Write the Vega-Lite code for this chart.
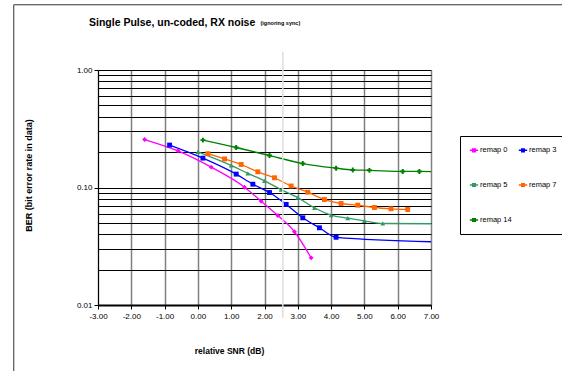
{
  "$schema": "https://vega.github.io/schema/vega-lite/v6.json",
  "width": 333,
  "height": 235,
  "autosize": {"type": "none"},
  "padding": {"left": 98, "top": 70, "right": 131, "bottom": 66},
  "background": "white",
  "title": {
    "text": "Single Pulse, un-coded, RX noise",
    "anchor": "start",
    "frame": "group",
    "dx": -9,
    "offset": -24,
    "font": "Liberation Sans",
    "fontSize": 10.5,
    "fontWeight": "bold",
    "color": "black"
  },
  "config": {
    "view": {"stroke": null},
    "font": "Liberation Sans",
    "axis": {"labelOverlap": false, "labelFlush": false}
  },
  "resolve": {"scale": {"color": "independent"}, "legend": {"color": "independent"}},
  "datasets": {
    "ber": [
      {"series": "remap 0", "snr": -1.6, "ber": 0.256},
      {"series": "remap 0", "snr": -0.6, "ber": 0.205},
      {"series": "remap 0", "snr": 0.4, "ber": 0.149},
      {"series": "remap 0", "snr": 1.4, "ber": 0.1006},
      {"series": "remap 0", "snr": 1.9, "ber": 0.0764},
      {"series": "remap 0", "snr": 2.4, "ber": 0.0578},
      {"series": "remap 0", "snr": 2.9, "ber": 0.042},
      {"series": "remap 0", "snr": 3.4, "ber": 0.0252},
      {"series": "remap 3", "snr": -0.85, "ber": 0.2296},
      {"series": "remap 3", "snr": 0.15, "ber": 0.1778},
      {"series": "remap 3", "snr": 1.15, "ber": 0.13},
      {"series": "remap 3", "snr": 1.65, "ber": 0.1067},
      {"series": "remap 3", "snr": 2.15, "ber": 0.0906},
      {"series": "remap 3", "snr": 2.65, "ber": 0.0718},
      {"series": "remap 3", "snr": 3.15, "ber": 0.0552},
      {"series": "remap 3", "snr": 3.65, "ber": 0.0454},
      {"series": "remap 3", "snr": 4.15, "ber": 0.0377},
      {"series": "remap 3", "snr": 8.0, "ber": 0.034},
      {"series": "remap 5", "snr": 0.0, "ber": 0.201},
      {"series": "remap 5", "snr": 1.0, "ber": 0.154},
      {"series": "remap 5", "snr": 1.5, "ber": 0.132},
      {"series": "remap 5", "snr": 2.0, "ber": 0.114},
      {"series": "remap 5", "snr": 2.5, "ber": 0.096},
      {"series": "remap 5", "snr": 3.0, "ber": 0.082},
      {"series": "remap 5", "snr": 3.5, "ber": 0.0672},
      {"series": "remap 5", "snr": 4.0, "ber": 0.0582},
      {"series": "remap 5", "snr": 4.5, "ber": 0.0549},
      {"series": "remap 5", "snr": 5.0, "ber": 0.0521},
      {"series": "remap 5", "snr": 5.55, "ber": 0.0494},
      {"series": "remap 5", "snr": 8.0, "ber": 0.049},
      {"series": "remap 7", "snr": 0.3, "ber": 0.194},
      {"series": "remap 7", "snr": 0.8, "ber": 0.175},
      {"series": "remap 7", "snr": 1.3, "ber": 0.157},
      {"series": "remap 7", "snr": 1.8, "ber": 0.136},
      {"series": "remap 7", "snr": 2.3, "ber": 0.121},
      {"series": "remap 7", "snr": 2.8, "ber": 0.103},
      {"series": "remap 7", "snr": 3.3, "ber": 0.0912},
      {"series": "remap 7", "snr": 3.8, "ber": 0.079},
      {"series": "remap 7", "snr": 4.3, "ber": 0.0731},
      {"series": "remap 7", "snr": 4.8, "ber": 0.0707},
      {"series": "remap 7", "snr": 5.3, "ber": 0.0676},
      {"series": "remap 7", "snr": 5.8, "ber": 0.0659},
      {"series": "remap 7", "snr": 6.3, "ber": 0.065},
      {"series": "remap 14", "snr": 0.15, "ber": 0.253},
      {"series": "remap 14", "snr": 1.15, "ber": 0.219},
      {"series": "remap 14", "snr": 2.15, "ber": 0.187},
      {"series": "remap 14", "snr": 3.15, "ber": 0.16},
      {"series": "remap 14", "snr": 4.15, "ber": 0.146},
      {"series": "remap 14", "snr": 4.65, "ber": 0.141},
      {"series": "remap 14", "snr": 5.15, "ber": 0.14},
      {"series": "remap 14", "snr": 6.15, "ber": 0.137},
      {"series": "remap 14", "snr": 6.65, "ber": 0.137},
      {"series": "remap 14", "snr": 8.0, "ber": 0.136}
    ],
    "marker": [{"snr": 2.55, "lo": 0.0078, "hi": 1.43}]
  },
  "layer": [
    {
      "data": {"name": "ber"},
      "mark": {"type": "line", "interpolate": "monotone", "strokeWidth": 1.3, "clip": true},
      "encoding": {
        "x": {
          "field": "snr", "type": "quantitative",
          "scale": {"domain": [-3, 7], "nice": false, "zero": false},
          "axis": {
            "values": [-3, -2, -1, 0, 1, 2, 3, 4, 5, 6, 7],
            "tickCount": 11,
            "labelExpr": "(datum.value < 0 ? '-' : '') + format(abs(datum.value), '.2f')",
            "labelOverlap": false, "labelFlush": false, "labelBound": false,
            "grid": true, "gridColor": "#808080", "gridWidth": 1.5,
            "domainColor": "black", "domainWidth": 2,
            "tickColor": "black", "tickSize": 4, "tickWidth": 1,
            "labelFontSize": 8, "labelColor": "black", "labelPadding": 3,
            "labelFont": "Liberation Sans",
            "title": "relative SNR (dB)",
            "titleFont": "Liberation Sans",
            "titleFontSize": 8.5, "titleFontWeight": "bold", "titleColor": "black",
            "titleX": 131, "titleY": 45, "titleAlign": "center", "titleBaseline": "middle"
          }
        },
        "y": {
          "field": "ber", "type": "quantitative",
          "scale": {"type": "log", "domain": [0.01, 1]},
          "axis": {
            "values": [0.01, 0.02, 0.03, 0.04, 0.05, 0.06, 0.07, 0.08, 0.09, 0.1, 0.2, 0.3, 0.4, 0.5, 0.6, 0.7, 0.8, 0.9, 1],
            "labelExpr": "(datum.value == 0.01 || datum.value == 0.1 || datum.value == 1) ? format(datum.value, '.2f') : ''",
            "labelOverlap": false, "labelFlush": false,
            "grid": true, "gridColor": "black", "gridWidth": 1,
            "domainColor": "black", "domainWidth": 1,
            "tickColor": "black", "tickSize": 4,
            "tickOpacity": {"condition": {"test": "datum.value == 0.01 || datum.value == 0.1 || datum.value == 1", "value": 1}, "value": 0},
            "labelFontSize": 8, "labelColor": "black", "labelPadding": 2,
            "labelFont": "Liberation Sans",
            "title": "BER (bit error rate in data)",
            "titleFont": "Liberation Sans",
            "titleFontSize": 9, "titleFontWeight": "bold", "titleColor": "black",
            "titleX": -70, "titleY": 105, "titleAngle": -90, "titleAlign": "center", "titleBaseline": "middle"
          }
        },
        "color": {
          "field": "series", "type": "nominal",
          "scale": {"domain": ["remap 0", "remap 3", "remap 5", "remap 7", "remap 14"], "range": ["#ff00ff", "#0000ff", "#339966", "#ff6600", "#008000"]},
          "legend": {
            "orient": "none", "legendX": 362, "legendY": 66,
            "direction": "horizontal", "columns": 2, "title": null,
            "strokeColor": "black", "fillColor": "white", "padding": 9,
            "rowPadding": 25, "columnPadding": 3,
            "symbolType": "M-1,0H1M-0.3,-0.3H0.3V0.3H-0.3Z",
            "symbolSize": 70, "symbolStrokeWidth": 1.5,
            "labelFontSize": 7.5, "labelColor": "black", "labelOffset": 1,
            "labelFont": "Liberation Sans"
          }
        },
        "order": {"field": "snr", "type": "quantitative"}
      }
    },
    {
      "data": {"name": "ber"},
      "mark": {"type": "point", "filled": true, "opacity": 1, "clip": true},
      "encoding": {
        "x": {"field": "snr", "type": "quantitative"},
        "y": {"field": "ber", "type": "quantitative"},
        "color": {
          "field": "series", "type": "nominal",
          "scale": {"domain": ["remap 0", "remap 3", "remap 5", "remap 7", "remap 14"], "range": ["#ff00ff", "#0000ff", "#339966", "#ff6600", "#008000"]},
          "legend": null
        },
        "shape": {
          "field": "series", "type": "nominal",
          "scale": {"domain": ["remap 0", "remap 3", "remap 5", "remap 7", "remap 14"], "range": ["diamond", "square", "triangle-up", "square", "cross"]},
          "legend": null
        },
        "size": {"value": 24}
      }
    },
    {
      "data": {"name": "marker"},
      "mark": {"type": "rule", "color": "#dddddd", "strokeWidth": 1.5, "clip": false},
      "encoding": {
        "x": {"field": "snr", "type": "quantitative"},
        "y": {"field": "lo", "type": "quantitative"},
        "y2": {"field": "hi"}
      }
    },
    {
      "data": {"values": [{}]},
      "mark": {"type": "rect", "fill": "transparent", "stroke": "#333333", "strokeWidth": 1, "clip": false},
      "encoding": {
        "x": {"datum": -5.53, "type": "quantitative"},
        "x2": {"datum": 12},
        "y": {"datum": 3.59, "type": "quantitative"},
        "y2": {"datum": 0.001}
      }
    },
    {
      "data": {"values": [{"note": "(ignoring sync)"}]},
      "mark": {"type": "text", "align": "left", "baseline": "alphabetic", "fontSize": 5.5, "fontWeight": "bold", "font": "Liberation Sans", "color": "black", "clip": false},
      "encoding": {
        "x": {"datum": 1.88, "type": "quantitative"},
        "y": {"datum": 2.4, "type": "quantitative"},
        "text": {"field": "note"}
      }
    }
  ]
}
